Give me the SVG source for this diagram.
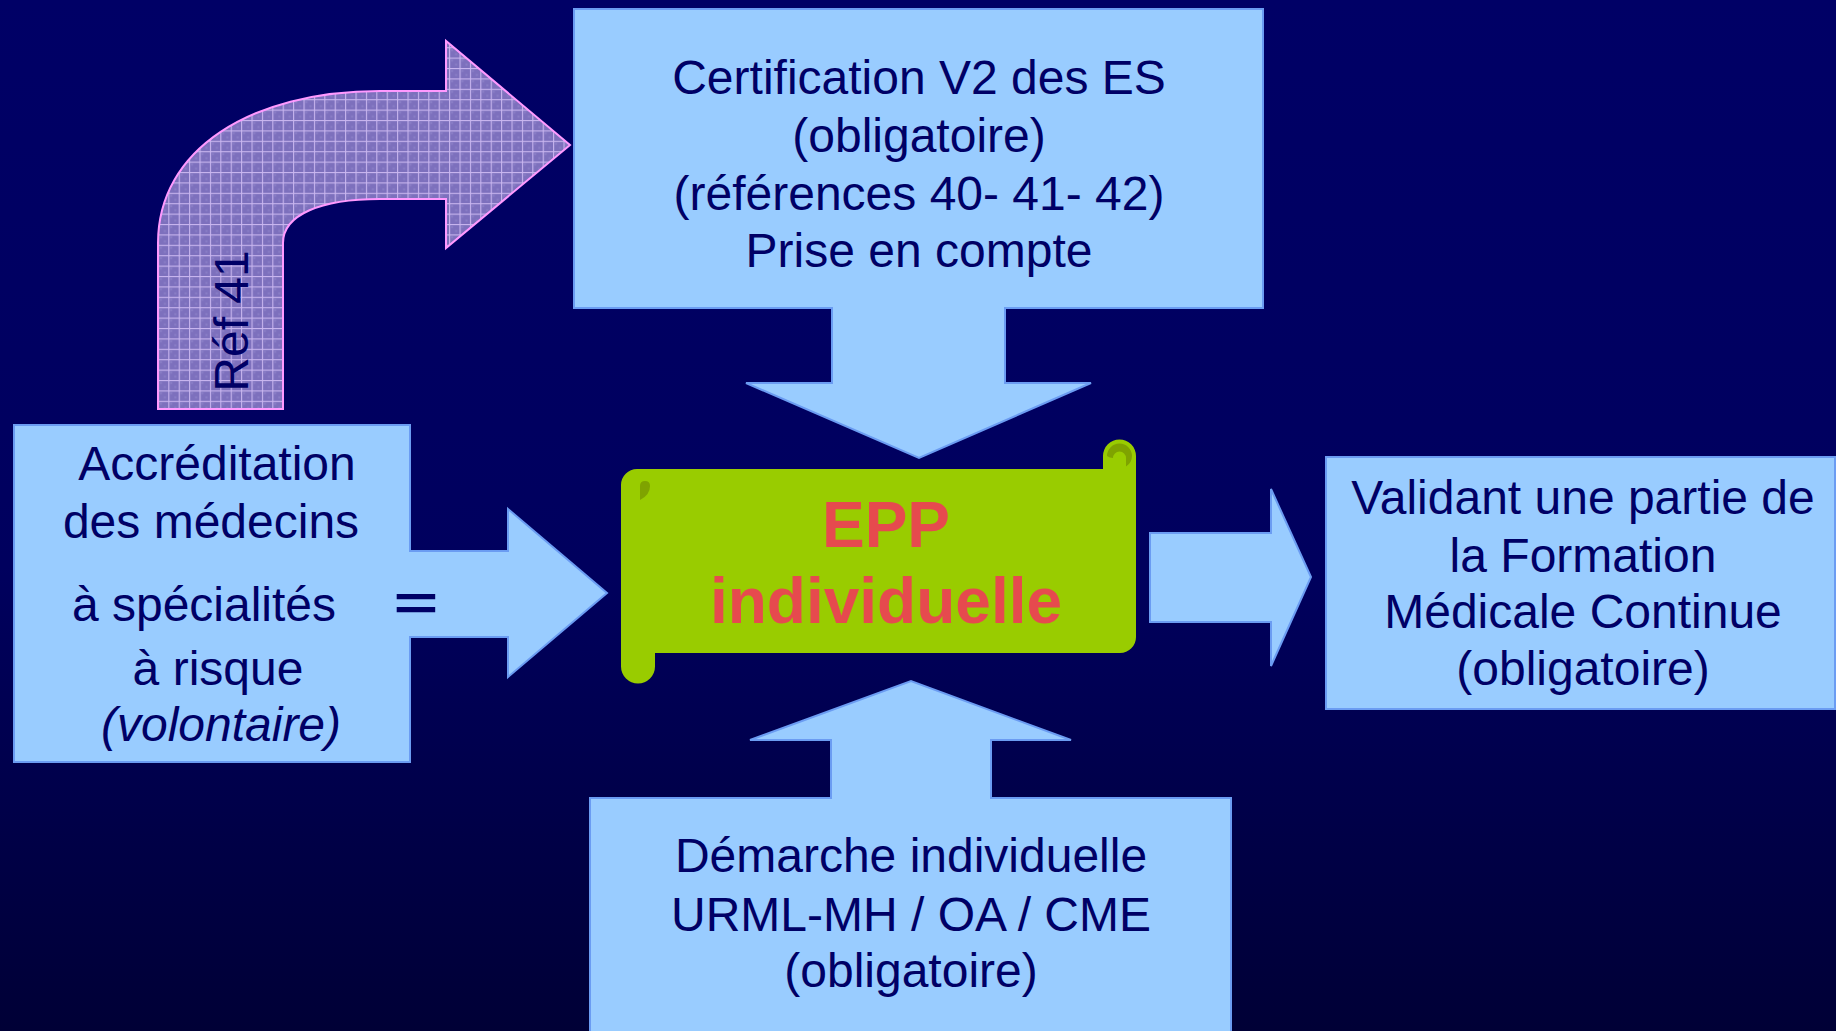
<svg xmlns="http://www.w3.org/2000/svg" width="1836" height="1031" viewBox="0 0 1836 1031">
  <defs>
    <linearGradient id="bg" x1="0" y1="0" x2="0" y2="1">
      <stop offset="0" stop-color="#000066"/>
      <stop offset="0.55" stop-color="#00005e"/>
      <stop offset="1" stop-color="#000036"/>
    </linearGradient>
    <!-- lavender grid fill of the curved arrow -->
    <pattern id="grid" patternUnits="userSpaceOnUse" x="1.9" y="5.6" width="10.4" height="10.4">
      <rect width="10.4" height="10.4" fill="#7d70bd"/>
      <rect x="2" y="2" width="2" height="2" fill="#8a7ec6"/>
      <rect x="6" y="6" width="2" height="2" fill="#8a7ec6"/>
      <rect x="0" y="0" width="10.4" height="1.1" fill="#c9b6ef"/>
      <rect x="0" y="0" width="1.1" height="10.4" fill="#c9b6ef"/>
    </pattern>
    <style>
      .box { fill: #99ccff; stroke: #6b9cf2; stroke-width: 2; stroke-linejoin: miter; }
      .label { font-family: "Liberation Sans", Arial, sans-serif; font-size: 48px; fill: #000066; text-anchor: middle; }
      .epp { font-family: "Liberation Sans", Arial, sans-serif; font-size: 64px; font-weight: bold; fill: #e64a4e; text-anchor: middle; }
      .scroll { fill: #99cc00; }
      .roll { fill: #7fa300; }
    </style>
  </defs>

  <rect width="1836" height="1031" fill="url(#bg)"/>

  <g id="connectors">
    <!-- curved arrow from the accreditation box to the certification box -->
    <path id="ref41-arrow" d="M158,409 V243 C158,150 250,91 380,91 H446 V41 L570,145 L446,248 V199 H380 C320,199 283,215 283,243 V409 Z" fill="url(#grid)" stroke="#ff99ff" stroke-width="2"/>
    <text class="label" transform="translate(248,321) rotate(-90)" font-size="46">Réf 41</text>
    <!-- block arrow towards the FMC box -->
    <path id="fmc-arrow" class="box" d="M1150,533 H1271 V489 L1311,577 L1271,666 V622 H1150 Z"/>
  </g>

  <g id="certification">
    <path class="box" d="M574,9 H1263 V308 H1005 V383 H1091 L919,458 L746,383 H832 V308 H574 Z"/>
    <text class="label" x="919" y="94">Certification V2 des ES</text>
    <text class="label" x="919" y="152">(obligatoire)</text>
    <text class="label" x="919" y="210">(références 40- 41- 42)</text>
    <text class="label" x="919" y="267">Prise en compte</text>
  </g>

  <g id="accreditation">
    <path class="box" d="M14,425 H410 V551 H508 V509 L607,593 L508,677 V637 H410 V762 H14 Z"/>
    <text class="label" x="217" y="480">Accréditation</text>
    <text class="label" x="211" y="538">des médecins</text>
    <text class="label" x="204" y="621">à spécialités</text>
    <text class="label" x="218" y="685">à risque</text>
    <text class="label" x="221" y="741" font-style="italic">(volontaire)</text>
    <text class="label" transform="translate(416,620) scale(1.6,1)" font-size="84" font-weight="bold">=</text>
  </g>

  <g id="epp">
    <path class="scroll" d="M621,485 A16,16 0 0 1 637,469 H1103 V456 A16.5,16.5 0 0 1 1136,456 V637 A16,16 0 0 1 1120,653 H655 V666.5 A17,17 0 0 1 621,666.5 Z"/>
    <!-- rolled-paper shading -->
    <path class="roll" d="M1119.5,443.5 A12.5,12.5 0 0 1 1132,456 A12.5,12.5 0 0 1 1126,466.5 L1126,458 A6.5,6.5 0 1 0 1113,458 A12.5,12.5 0 0 1 1107,456 A12.5,12.5 0 0 1 1119.5,443.5 Z"/>
    <path class="roll" d="M640,500 V486 Q640,481 645,481 Q650,481 650,486 Q650,495 640,500 Z"/>
    <text class="epp" x="886" y="547">EPP</text>
    <text class="epp" x="886" y="623">individuelle</text>
  </g>

  <g id="fmc">
    <rect class="box" x="1326" y="457" width="509" height="252"/>
    <text class="label" x="1583" y="514">Validant une partie de</text>
    <text class="label" x="1583" y="572">la Formation</text>
    <text class="label" x="1583" y="628">Médicale Continue</text>
    <text class="label" x="1583" y="685">(obligatoire)</text>
  </g>

  <g id="demarche">
    <path class="box" d="M590,1040 V798 H831 V740 H750 L911,681 L1071,740 H991 V798 H1231 V1040 Z"/>
    <text class="label" x="911" y="872">Démarche individuelle</text>
    <text class="label" x="911" y="931">URML-MH / OA / CME</text>
    <text class="label" x="911" y="987">(obligatoire)</text>
  </g>
</svg>
